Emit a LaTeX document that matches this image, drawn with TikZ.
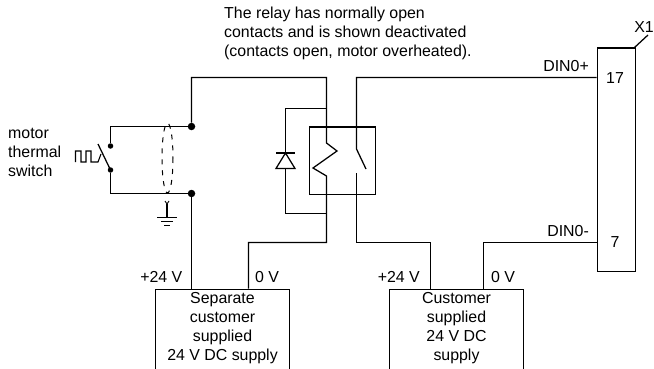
\documentclass[tikz,border=0pt]{standalone}
\usepackage{fontspec}
\setmainfont{Liberation Sans}
\begin{document}
\begin{tikzpicture}[x=1pt,y=-1pt,
  wire/.style={line width=1.25pt,line join=miter},
  thick box/.style={line width=1.7pt},
  lbl/.style={inner sep=0pt,font=\fontsize{15.9}{19}\selectfont},
  supply/.style={draw,line width=1.25pt,minimum height=80pt,anchor=north,inner sep=0pt},
  dot/.style={circle,fill=black,inner sep=0pt,minimum size=#1}]
\useasboundingbox (0,0) rectangle (654,369);
% junctions and terminals
\node[dot=7.5pt] (jt) at (191.5,126.5) {};
\node[dot=7.5pt] (jb) at (191.5,193.5) {};
\node[dot=5.5pt] (st) at (110.5,146) {};
\node[dot=5.5pt] (sb) at (110.5,170) {};
% boxes
\node[supply,minimum width=134pt] (s1) at (222.5,288.5) {};
\node[supply,minimum width=134pt] (s2) at (456.5,288.5) {};
\node[draw,thick box,minimum width=38pt,minimum height=223pt,anchor=north west,inner sep=0pt] (x1) at (596.5,47.5) {};
\node[draw,wire,minimum width=66pt,minimum height=67pt,anchor=north west,inner sep=0pt] (rel) at (308.5,126.5) {};
% supply texts
\node[lbl,align=center,anchor=north] (t1) at (222.5,292) {Separate\\customer\\supplied\\24 V DC supply};
\node[lbl,align=center,anchor=north] (t2) at (456.5,292) {Customer\\supplied\\24 V DC\\supply};
\node[lbl,anchor=east] (p1) at (182.5,277) {+24 V};
\node[lbl,anchor=west] (z1) at (255,277) {0 V};
\node[lbl,anchor=east] (p2) at (420,277) {+24 V};
\node[lbl,anchor=west] (z2) at (491,277) {0 V};
\node[lbl,anchor=east] (d1) at (589,66) {DIN0+};
\node[lbl,anchor=east] (d2) at (589,231) {DIN0-};
\node[lbl] (n17) at (615,78) {17};
\node[lbl] (n7) at (615,242) {7};
\node[lbl,anchor=east] (xl) at (654,27) {X1};
\node[lbl,align=left,anchor=west] (mot) at (8,152.5) {motor\\thermal\\switch};
\node[lbl,align=left,anchor=north west] (note) at (224,7) {The relay has normally open\\contacts and is shown deactivated\\(contacts open, motor overheated).};
% helper coordinates
\coordinate (c1) at (326.5,77.5);
\coordinate (c2) at (356.5,77.5);
\coordinate (din1) at (596.5,77.5);
\coordinate (din2) at (596.5,242.5);
\coordinate (xt) at (648,35);
% wires
\draw[wire] (sb) |- (jb);
\draw[wire] (st) |- (jt);
\draw[wire] (jb) -- (jb |- s1.north);
\draw[wire] (jt) -- (jt |- c1) -- (c1) -- (326.5,143) -- (337,151) -- (313,168) -- (326.5,176) -- (326.5,242.5) -- (248.5,242.5) -- (248.5,288.5);
\draw[wire] (din1) -- (c2) -- (356.5,149) -- (366,169);
\draw[wire] (356.5,173) -- (356.5,242.5) -- (430.5,242.5) -- (430.5,288.5);
\draw[wire] (483.5,288.5) -- (483.5,242.5) -- (din2);
\draw[wire] (634.5,47.5) -- (xt);
% diode
\draw[wire] (326.5,108.5) -- (285.5,108.5) -- (285.5,213.5) -- (326.5,213.5);
\draw[wire,fill=white] (285.5,153) -- (276,168.5) -- (295,168.5) -- cycle;
\draw[wire] (276,153) -- (295,153);
% thermal switch
\draw[line width=1.1pt] (75.5,162) -- (75.5,151) -- (81,151) -- (81,162) -- (86,162) -- (86,151) -- (91,151) -- (91,162) -- (98,162) -- (101,154);
\draw[wire] (98,144) -- (110.5,170);
% shield
\draw[line width=1pt,dash pattern=on 5pt off 6pt] (167.5,158) ellipse (5.5 and 35);
% ground
\draw[line width=0.9pt] (165,201) -- (167,204) -- (169,201);
\draw[wire] (167,204) -- (167,217);
\draw[wire] (157,217.5) -- (177,217.5);
\draw[wire] (161,221.5) -- (173,221.5);
\draw[wire] (164,225.5) -- (170,225.5);
\end{tikzpicture}
\end{document}
